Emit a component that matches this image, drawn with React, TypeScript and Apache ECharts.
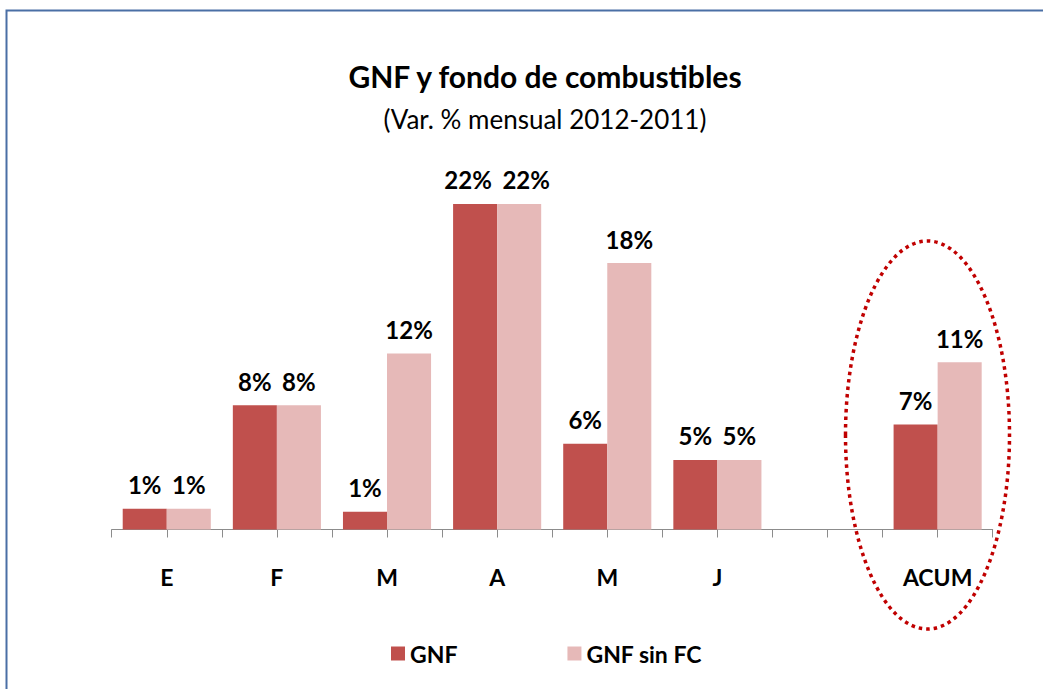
import React, { useEffect, useRef } from "react";
import * as echarts from "echarts";

const categories = ["E", "F", "M", "A", "M", "J", "", "ACUM"];
const gnf = [1.4, 8.4, 1.2, 22, 5.8, 4.7, null, 7.1];
const gnfSinFC = [1.4, 8.4, 11.9, 22, 18.0, 4.7, null, 11.3];
const halfTicks = Array.from({ length: categories.length * 2 }, () => "");

const FONT = "Lato, 'Open Sans', sans-serif";

export default function App() {
  const ref = useRef<HTMLDivElement>(null);
  useEffect(() => {
    document.body.style.margin = "0";
    const chart = echarts.init(ref.current!, undefined, { renderer: "svg" });
    const label = {
      show: true,
      position: "top",
      distance: 12,
      color: "#000",
      fontWeight: "bold",
      fontSize: 24,
      fontFamily: FONT,
      formatter: (p: any) => (p.value == null ? "" : Math.round(p.value) + "%"),
    };
    // spread apart labels of equal-height neighbouring bars so they don't collide
    const withSpread = (vals: (number | null)[], other: (number | null)[], dx: number) =>
      vals.map((v, i) =>
        v != null && other[i] != null && v === other[i] && v >= 10
          ? { value: v, label: { offset: [dx, 0] } }
          : v
      );
    chart.setOption({
      animation: false,
      backgroundColor: "#fff",
      title: [
        {
          text: "GNF y fondo de combustibles",
          left: 540,
          top: 56,
          textAlign: "center",
          textStyle: { fontFamily: FONT, fontWeight: "bold", fontSize: 30, color: "#000" },
        },
        {
          text: "(Var. % mensual 2012-2011)",
          left: 540,
          top: 101,
          textAlign: "center",
          textStyle: { fontFamily: FONT, fontWeight: "normal", fontSize: 26, color: "#000" },
        },
      ],
      legend: {
        left: 386,
        top: 637,
        itemWidth: 14,
        itemHeight: 14,
        itemGap: 110,
        icon: "rect",
        textStyle: { fontFamily: FONT, fontWeight: "bold", fontSize: 23, color: "#000" },
        data: ["GNF", "GNF sin FC"],
      },
      grid: { left: 111.7, right: 50.3, top: 159.5, bottom: 159.5 },
      xAxis: [
        {
          type: "category",
          data: categories,
          axisLine: { show: true, lineStyle: { color: "#8c8c8c", width: 1 } },
          axisTick: { show: false },
          axisLabel: {
            margin: 36,
            color: "#000",
            fontWeight: "bold",
            fontSize: 23,
            fontFamily: FONT,
            interval: 0,
          },
        },
        {
          type: "category",
          data: halfTicks,
          position: "bottom",
          axisLine: { show: false },
          axisTick: { show: true, length: 8, lineStyle: { color: "#8c8c8c", width: 1 } },
          axisLabel: { show: false },
        },
      ],
      yAxis: { type: "value", min: 0, max: 25, show: false, splitLine: { show: false } },
      series: [
        {
          name: "GNF",
          type: "bar",
          data: withSpread(gnf, gnfSinFC, -7),
          barGap: "0%",
          barCategoryGap: "20%",
          itemStyle: { color: "#C0504D" },
          label,
        },
        {
          name: "GNF sin FC",
          type: "bar",
          data: withSpread(gnfSinFC, gnf, 7),
          barGap: "0%",
          barCategoryGap: "20%",
          itemStyle: { color: "#E6B9B8" },
          label,
        },
      ],
      graphic: [
        {
          type: "rect",
          shape: { x: 6.5, y: 10.5, width: 1200, height: 900 },
          style: { fill: "none", stroke: "#4a6fa5", lineWidth: 2 },
          silent: true,
        },
        {
          type: "ellipse",
          shape: { cx: 927.5, cy: 435, rx: 82, ry: 194 },
          style: { fill: "none", stroke: "#C00000", lineWidth: 3.5, lineDash: [3.5, 4] },
          silent: true,
        },
      ],
    });
    return () => chart.dispose();
  }, []);
  return <div ref={ref} style={{ width: 1043, height: 689 }} />;
}
